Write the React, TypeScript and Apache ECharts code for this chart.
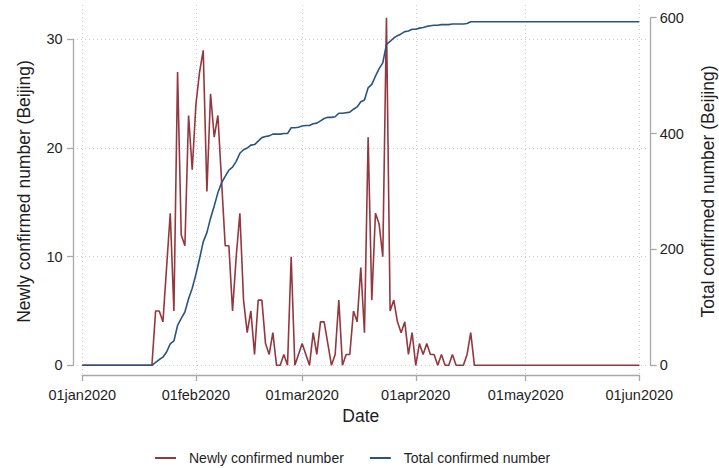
import React, { useEffect, useRef } from "react";
import * as echarts from "echarts";

// Daily values from 01jan2020 to 01jun2020 (153 days)
const newlyConfirmed = [
  0, 0, 0, 0, 0, 0, 0, 0, 0, 0,
  0, 0, 0, 0, 0, 0, 0, 0, 0,
  0, 5, 5, 4, 9, 14, 5, 27, 12, 11,
  23, 18, 24, 27, 29, 16, 25, 21, 23, 17,
  11, 11, 5, 10, 14, 6, 3, 5, 1, 6,
  6, 2, 1, 3, 0, 0, 1, 0, 10, 0,
  1, 2, 1, 0, 3, 1, 4, 4, 2, 0,
  1, 6, 0, 1, 1, 5, 4, 9, 3, 21,
  6, 14, 13, 10, 32, 5, 6, 4, 3, 4,
  1, 3, 0, 2, 1, 2, 1, 1, 0, 1,
  0, 0, 1, 0, 0, 0, 1, 3,
  0, 0, 0, 0, 0, 0, 0, 0, 0, 0,
  0, 0, 0, 0, 0, 0, 0, 0, 0, 0,
  0, 0, 0, 0, 0, 0, 0, 0, 0, 0,
  0, 0, 0, 0, 0, 0, 0, 0, 0, 0,
  0, 0, 0, 0, 0, 0,
];

const totalConfirmed = [
  0, 0, 0, 0, 0, 0, 0, 0, 0, 0,
  0, 0, 0, 0, 0, 0, 0, 0, 0,
  0, 5, 10, 14, 23, 37, 42, 69, 81, 92,
  115, 133, 157, 184, 213, 229, 254, 275, 298, 315,
  326, 337, 342, 352, 366, 372, 375, 380, 381, 387,
  393, 395, 396, 399, 399, 399, 400, 400, 410, 410,
  411, 413, 414, 414, 417, 418, 422, 426, 428, 428,
  429, 435, 435, 436, 437, 442, 446, 455, 458, 479,
  485, 499, 512, 522, 554, 559, 565, 569, 572, 576,
  577, 580, 580, 582, 583, 585, 586, 587, 587, 588,
  588, 588, 589, 589, 589, 589, 590, 593,
  593, 593, 593, 593, 593, 593, 593, 593, 593, 593,
  593, 593, 593, 593, 593, 593, 593, 593, 593, 593,
  593, 593, 593, 593, 593, 593, 593, 593, 593, 593,
  593, 593, 593, 593, 593, 593, 593, 593, 593, 593,
  593, 593, 593, 593, 593, 593,
];

const startDate = "2020-01-01";
const xTickDates = ["2020-01-01", "2020-02-01", "2020-03-01", "2020-04-01", "2020-05-01", "2020-06-01"];
const monthNames = ["jan", "feb", "mar", "apr", "may", "jun", "jul", "aug", "sep", "oct", "nov", "dec"];
const leftTicks = [0, 10, 20, 30];
const rightTicks = [0, 200, 400, 600];

const seriesNames = ["Newly confirmed number", "Total confirmed number"];
const xTitle = "Date";
const leftTitle = "Newly confirmed number (Beijing)";
const rightTitle = "Total confirmed number (Beijing)";

const RED = "#94383f";
const BLUE = "#2a5480";
const AXIS = "#a8a8a8";
const GRIDC = "#cdcdcd";
const TEXT = "#1e1e1e";
const FONT = "'Liberation Sans', Arial, sans-serif";

const DAY = 24 * 3600 * 1000;
function parseDay(s: string) {
  const [y, m, d] = s.split("-").map(Number);
  return Date.UTC(y, m - 1, d);
}
const t0 = parseDay(startDate);
function dayIndex(s: string) {
  return Math.round((parseDay(s) - t0) / DAY);
}
function fmtDay(idx: number) {
  const d = new Date(t0 + Math.round(idx) * DAY);
  const day = d.getUTCDate();
  const dd = day < 10 ? "0" + day : String(day);
  return dd + monthNames[d.getUTCMonth()] + d.getUTCFullYear();
}

export default function App() {
  const ref = useRef<HTMLDivElement>(null);
  useEffect(() => {
    if (!ref.current) return;
    const chart = echarts.init(ref.current, undefined, { renderer: "svg" });
    const tickVals = xTickDates.map(dayIndex);
    const xMin = tickVals[0];
    const xMax = tickVals[tickVals.length - 1];
    const dotted = { type: [1, 3] as any, color: GRIDC, width: 1 };
    const option: any = {
      animation: false,
      backgroundColor: "#ffffff",
      textStyle: { fontFamily: FONT },
      grid: [
        { left: 82.3, right: 79.7, top: 17.7, bottom: 102.7 },
        { left: 82.3, right: 79.7, top: 5, bottom: 93 },
        { left: 73, right: 70, top: 39.3, bottom: 102.7 },
      ],
      graphic: [
        {
          type: "text",
          x: 708,
          y: 191.5,
          rotation: Math.PI / 2,
          style: {
            text: rightTitle,
            fontSize: 17.5,
            fill: TEXT,
            fontFamily: FONT,
            align: "center",
            verticalAlign: "middle",
          },
        },
      ],
      xAxis: [
        { type: "value", gridIndex: 0, min: xMin, max: xMax, show: false },
        {
          type: "value",
          gridIndex: 1,
          min: xMin,
          max: xMax,
          position: "bottom",
          offset: 2,
          name: xTitle,
          nameLocation: "middle",
          nameGap: 27,
          nameTextStyle: { fontSize: 17.5, color: TEXT, fontFamily: FONT },
          axisLine: { show: true, lineStyle: { color: AXIS, width: 1.3 } },
          axisTick: { show: true, length: 6, customValues: tickVals, lineStyle: { color: AXIS, width: 1.3 } },
          axisLabel: {
            show: true,
            customValues: tickVals,
            formatter: (v: number) => fmtDay(v),
            fontSize: 14.5,
            color: TEXT,
            fontFamily: FONT,
            margin: 10,
            hideOverlap: false,
          },
          splitLine: { show: true, lineStyle: dotted },
        },
        { type: "value", gridIndex: 2, min: 0, max: 1, show: false },
      ],
      yAxis: [
        {
          type: "value",
          gridIndex: 0,
          min: 0,
          max: 32,
          position: "left",
          offset: 11,
          name: leftTitle,
          nameLocation: "middle",
          nameGap: 38,
          nameTextStyle: { fontSize: 17.5, color: TEXT, fontFamily: FONT },
          axisLine: { show: false },
          axisTick: { show: false },
          axisLabel: { show: false },
          splitLine: { show: false },
        },
        {
          type: "value",
          gridIndex: 0,
          min: rightTicks[0],
          max: rightTicks[rightTicks.length - 1],
          interval: rightTicks[1] - rightTicks[0],
          position: "right",
          offset: 11.4,
          axisLine: { show: true, lineStyle: { color: AXIS, width: 1.3 } },
          axisTick: { show: true, length: 6, lineStyle: { color: AXIS, width: 1.3 } },
          axisLabel: { fontSize: 14.5, color: TEXT, fontFamily: FONT, margin: 9 },
          splitLine: { show: false },
        },
        { type: "value", gridIndex: 1, min: 0, max: 1, show: false },
        {
          type: "value",
          gridIndex: 2,
          min: leftTicks[0],
          max: leftTicks[leftTicks.length - 1],
          interval: leftTicks[1] - leftTicks[0],
          position: "left",
          offset: 1.3,
          axisLine: { show: true, lineStyle: { color: AXIS, width: 1.3 } },
          axisTick: { show: true, length: 6, lineStyle: { color: AXIS, width: 1.3 } },
          axisLabel: { fontSize: 14.5, color: TEXT, fontFamily: FONT, margin: 9 },
          splitLine: { show: true, lineStyle: dotted },
        },
      ],
      legend: {
        data: seriesNames,
        left: 155,
        top: 451,
        padding: 0,
        icon: "rect",
        itemWidth: 21,
        itemHeight: 2,
        itemGap: 26,
        textStyle: { fontSize: 14, color: TEXT, fontFamily: FONT, padding: [0, 0, 0, 8] },
      },
      series: [
        {
          type: "line",
          name: seriesNames[0],
          xAxisIndex: 0,
          yAxisIndex: 0,
          data: newlyConfirmed.map((v, i) => [i, v]),
          symbol: "none",
          showSymbol: false,
          lineStyle: { color: RED, width: 1.6 },
          itemStyle: { color: RED },
          z: 3,
        },
        {
          type: "line",
          name: seriesNames[1],
          xAxisIndex: 0,
          yAxisIndex: 1,
          data: totalConfirmed.map((v, i) => [i, v]),
          symbol: "none",
          showSymbol: false,
          lineStyle: { color: BLUE, width: 1.6 },
          itemStyle: { color: BLUE },
          z: 4,
        },
      ],
    };
    chart.setOption(option);
    return () => chart.dispose();
  }, []);
  return (
    <div
      ref={ref}
      style={{ position: "fixed", left: 0, top: 0, width: 719, height: 468, background: "#fff" }}
    />
  );
}
